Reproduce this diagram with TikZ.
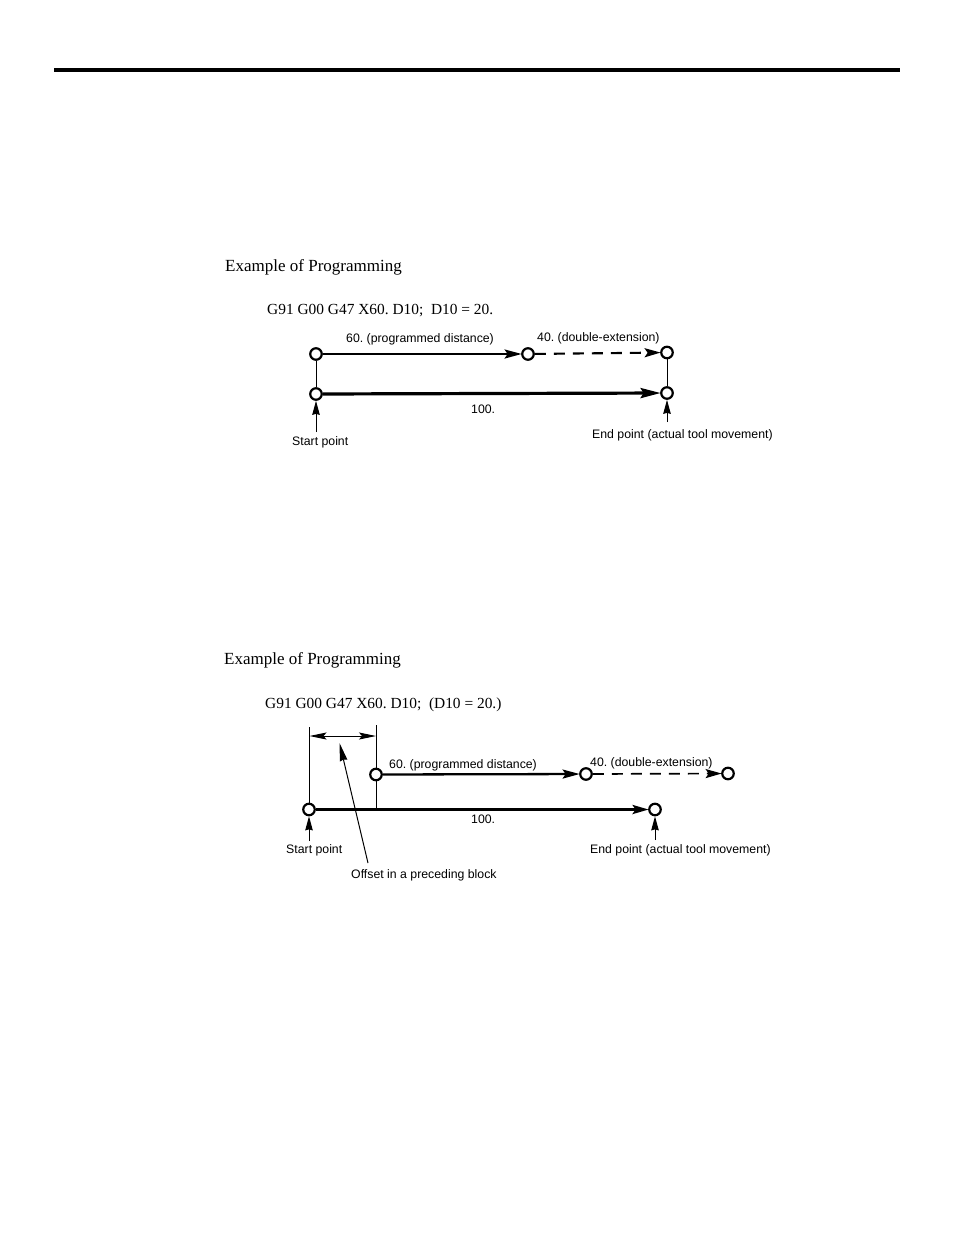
\documentclass[tikz,border=0pt]{standalone}
\usepackage{fontspec}
\setmainfont{Liberation Serif}
\newfontfamily\lblfont{Liberation Sans}
\usetikzlibrary{arrows.meta}
\frenchspacing
\tikzset{
  x=1pt,y=-1pt,
  ptnode/.style={circle,draw=black,fill=white,line width=2.2pt,minimum size=11.5pt,inner sep=0pt},
  titletext/.style={anchor=base west,inner sep=0pt,font=\fontsize{17}{19}\selectfont},
  codetext/.style={anchor=base west,inner sep=0pt,font=\fontsize{15.4}{17}\selectfont},
  lbl/.style={anchor=base west,inner sep=0pt,font=\lblfont\fontsize{12.3}{14}\selectfont},
  path1/.style={line width=2.3pt,-{Stealth[length=17pt,width=9pt,inset=3pt]},shorten >=-0.5pt},
  path2/.style={line width=3.2pt,-{Stealth[length=20pt,width=10pt,inset=3pt]},shorten >=-0.5pt},
  dashpath/.style={line width=2.1pt,dash pattern=on 11pt off 8pt,-{Stealth[length=16pt,width=9pt,inset=3pt]},shorten >=-0.5pt},
  hair/.style={line width=1pt},
  uparrow/.style={line width=1pt,-{Stealth[length=14pt,width=7.5pt,inset=1pt]}},
}
\begin{document}
\begin{tikzpicture}
\useasboundingbox (0,0) rectangle (954,1235);
\fill[white] (0,0) rectangle (954,1235);
\coordinate (ruleL) at (54,70); \coordinate (ruleR) at (900,70);
\draw[line width=4pt] (ruleL) -- (ruleR);
% Upper
\node[titletext] (t1) at (225,271) {Example of Programming};
\node[codetext] (c1) at (267,314) {G91 G00 G47 X60. D10;\ \ D10 = 20.};
\node[lbl] (l1) at (346,342) {60. (programmed distance)};
\node[lbl] (l2) at (537,341) {40. (double-extension)};
\node[lbl] (l3) at (471,413) {100.};
\node[lbl] (l4) at (292,445) {Start point};
\node[lbl] (l5) at (592,438) {End point (actual tool movement)};
\coordinate (u1) at (316,432); \coordinate (u2) at (667,422);
\node[ptnode] (A) at (316,354) {};
\node[ptnode] (B) at (316,394) {};
\node[ptnode] (C) at (528,354) {};
\node[ptnode] (D) at (667,352.5) {};
\node[ptnode] (E) at (667,393) {};
\draw[hair] (A) -- (B);
\draw[hair] (D) -- (E);
\draw[path1] (A) -- (C);
\draw[path2] (B) -- (E);
\draw[dashpath] (C) -- (D);
\draw[uparrow] (u1) -- (B);
\draw[uparrow] (u2) -- (E);
% Lower
\node[titletext] (t2) at (224,664) {Example of Programming};
\node[codetext] (c2) at (265,708) {G91 G00 G47 X60. D10;\ \ (D10 = 20.)};
\node[lbl] (m1) at (389,768) {60. (programmed distance)};
\node[lbl] (m2) at (590,766) {40. (double-extension)};
\node[lbl] (m3) at (471,823) {100.};
\node[lbl] (m4) at (286,853) {Start point};
\node[lbl] (m5) at (590,853) {End point (actual tool movement)};
\node[lbl] (m6) at (351,878) {Offset in a preceding block};
\coordinate (v1) at (309,727); \coordinate (v2) at (376,725);
\coordinate (v3) at (376,808.5); \coordinate (d1) at (309.5,736); \coordinate (d2) at (376,736);
\coordinate (w1) at (309,841); \coordinate (w2) at (655,840);
\coordinate (o1) at (368,863); \coordinate (o2) at (339.5,743);
\node[ptnode] (S) at (309,809.5) {};
\node[ptnode] (P) at (376,774.5) {};
\node[ptnode] (Q) at (586,774) {};
\node[ptnode] (R) at (728,773.5) {};
\node[ptnode] (T) at (655,809.5) {};
\draw[hair] (v1) -- (S);
\draw[hair] (v2) -- (P);
\draw[hair] (P) -- (v3);
\draw[line width=1pt,{Stealth[length=17pt,width=7pt,inset=3pt]}-{Stealth[length=17pt,width=7pt,inset=3pt]}] (d1) -- (d2);
\draw[uparrow,-{Stealth[length=18pt,width=7.5pt,inset=1pt]}] (o1) -- (o2);
\draw[path1] (P) -- (Q);
\draw[path2,line width=2.8pt,-{Stealth[length=16pt,width=9pt,inset=3pt]}] (S) -- (T);
\draw[dashpath,line width=1.7pt] (Q) -- (R);
\draw[uparrow] (w1) -- (S);
\draw[uparrow] (w2) -- (T);
\end{tikzpicture}
\end{document}
